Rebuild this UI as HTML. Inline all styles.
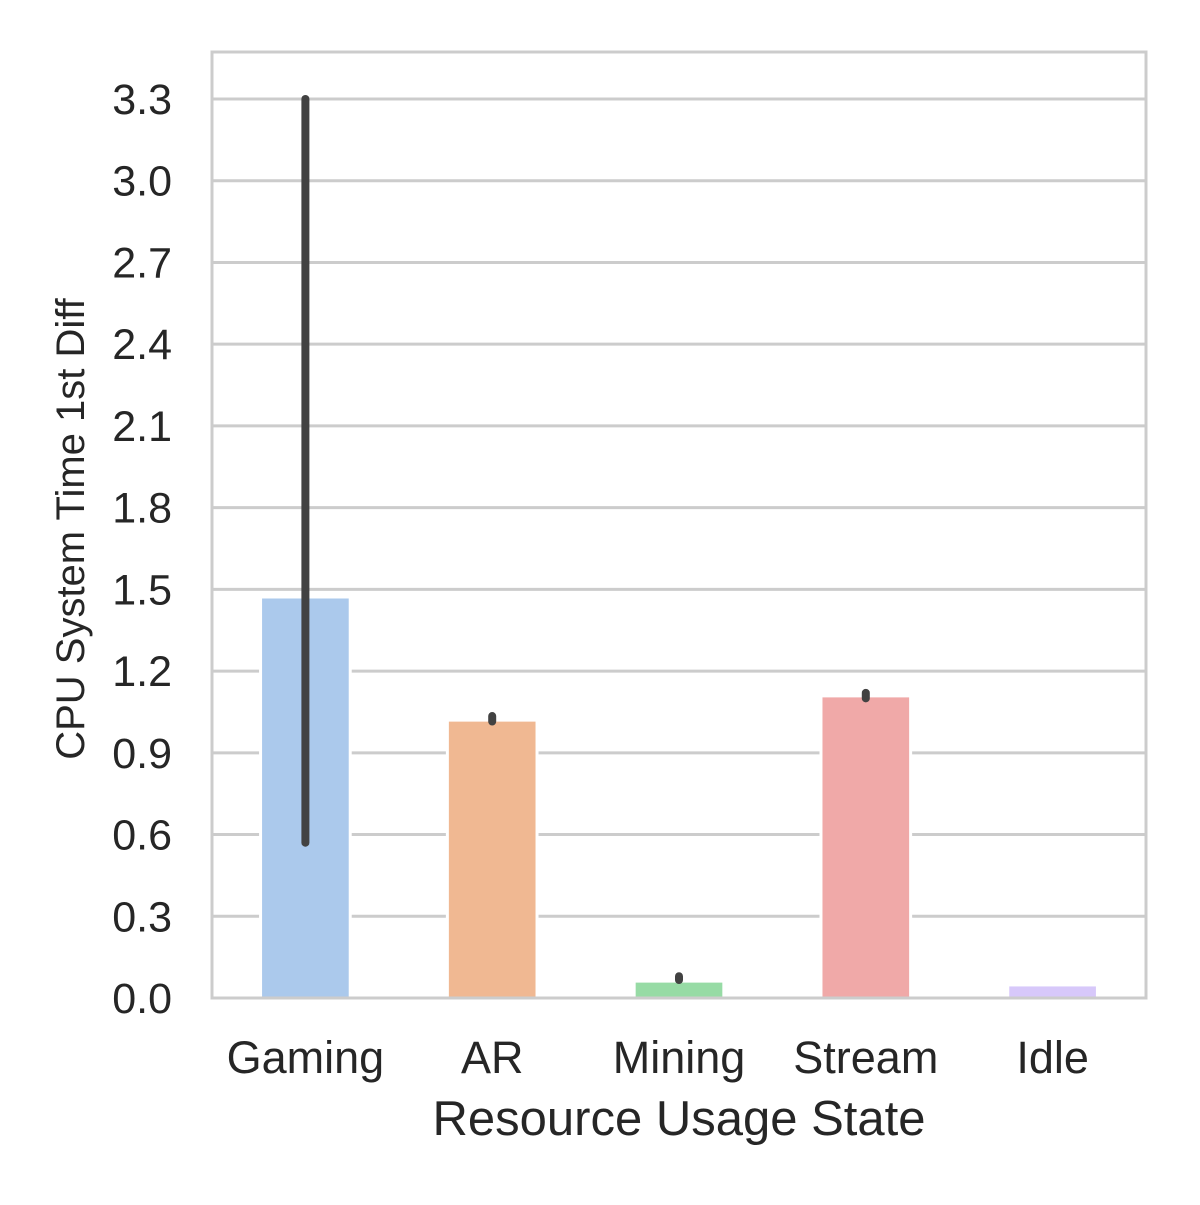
<!DOCTYPE html>
<html><head><meta charset="utf-8"><style>
html,body{margin:0;padding:0;background:#fff;}
svg text{font-family:"Liberation Sans",Arial,sans-serif;fill:#262626;}
</style></head><body>
<svg id="chart" width="1200" height="1200" viewBox="0 0 1200 1200" xmlns="http://www.w3.org/2000/svg">
<rect width="1200" height="1200" fill="#fff"/>
<g id="grid"></g><g id="bars"></g><g id="errs"></g><g id="axes"></g>
</svg>
<script>
const categories=["Gaming","AR","Mining","Stream","Idle"];
const values=[1.472,1.02,0.062,1.109,0.048];
const errLow=[0.57,1.015,0.066,1.1,null];
const errHigh=[3.3,1.035,0.08,1.12,null];
const colors=["#abc9ec","#f0b892","#97dba5","#f0a9a8","#d7c8fa"];
const yTicks=[0,0.3,0.6,0.9,1.2,1.5,1.8,2.1,2.4,2.7,3.0,3.3];
const NS="http://www.w3.org/2000/svg";
const L=212,R=1146,T=52,B=998;
const y=v=>B-v*(B-99)/3.3;
const band=(R-L)/categories.length;
const x=i=>L+band*(i+0.5);
const bw=band*0.48;
function mk(tag,attrs,parent){const e=document.createElementNS(NS,tag);for(const k in attrs)e.setAttribute(k,attrs[k]);document.getElementById(parent).appendChild(e);return e;}
yTicks.forEach(t=>{
 const g=mk("line",{x1:L,x2:R,y1:y(t),y2:y(t),stroke:"#cccccc","stroke-width":3},"grid");
 
 
 const tx=mk("text",{x:172,y:y(t)+15,"text-anchor":"end","font-size":43},"axes");
 tx.textContent=t.toFixed(1);
 
 
});
categories.forEach((c,i)=>{
 const b=mk("rect",{x:x(i)-bw/2,y:y(values[i]),width:bw,height:B-y(values[i]),fill:colors[i],stroke:"#fff","stroke-width":3},"bars");
 
 
 if(errLow[i]!==null){
  const e=mk("line",{x1:x(i),x2:x(i),y1:y(errLow[i]),y2:y(errHigh[i]),stroke:"#424242","stroke-width":8,"stroke-linecap":"round"},"errs");
  
  
 }
 const tx=mk("text",{x:x(i),y:1073,"text-anchor":"middle","font-size":45},"axes");
 tx.textContent=c;
 
 
});
const fr=mk("rect",{x:L,y:T,width:R-L,height:B-T,fill:"none",stroke:"#cccccc","stroke-width":3},"axes");


const xl=mk("text",{x:679,y:1135,"text-anchor":"middle","font-size":49},"axes");
xl.textContent="Resource Usage State";


const yl=mk("text",{x:0,y:0,"text-anchor":"middle","font-size":40,transform:"translate(84,529) rotate(-90)"},"axes");
yl.textContent="CPU System Time 1st Diff";


</script>
</body></html>
